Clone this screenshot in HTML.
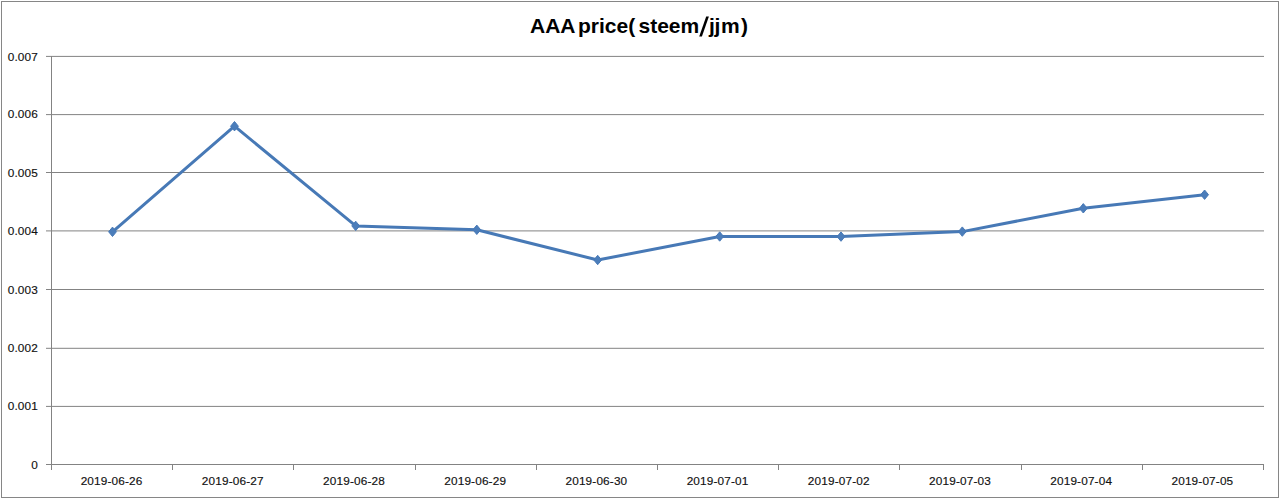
<!DOCTYPE html>
<html><head><meta charset="utf-8"><style>
html,body{margin:0;padding:0;background:#fff;width:1280px;height:499px;overflow:hidden}
svg{display:block}
.l{font-family:"Liberation Sans",sans-serif;font-size:11.8px;fill:#111;stroke:#111;stroke-width:0.15px;letter-spacing:0.15px}
.t{font-family:"Liberation Sans",sans-serif;font-weight:bold;font-size:21px;fill:#000}
</style></head><body>
<svg width="1280" height="499" viewBox="0 0 1280 499">
<rect x="1.5" y="1.5" width="1277" height="496" fill="#fff" stroke="#868686" stroke-width="1" shape-rendering="crispEdges"/>
<text class="t" y="33"><tspan x="530">AAA</tspan><tspan x="578">price(</tspan><tspan x="638.5">steem</tspan><tspan x="709">j</tspan><tspan x="714.5">j</tspan><tspan x="721">m</tspan><tspan x="741">)</tspan></text>
<path d="M699.2 36.5L701.9 36.5L708.9 16.6L706.2 16.6Z" fill="#000"/>
<g><rect x="46" y="464.0" width="1218" height="1" fill="#838383"/>
<rect x="46" y="405.9" width="1218" height="1" fill="#838383"/>
<rect x="46" y="347.8" width="1218" height="1" fill="#838383"/>
<rect x="46" y="289.0" width="1218" height="1" fill="#838383"/>
<rect x="46" y="230.4" width="1218" height="1" fill="#838383"/>
<rect x="46" y="172.0" width="1218" height="1" fill="#838383"/>
<rect x="46" y="114.1" width="1218" height="1" fill="#838383"/>
<rect x="46" y="55.9" width="1218" height="1" fill="#838383"/>
</g><g shape-rendering="crispEdges">
<rect x="51" y="56" width="1" height="408" fill="#838383"/>
<rect x="51" y="464" width="1" height="6" fill="#838383"/>
<rect x="172" y="464" width="1" height="6" fill="#838383"/>
<rect x="293" y="464" width="1" height="6" fill="#838383"/>
<rect x="415" y="464" width="1" height="6" fill="#838383"/>
<rect x="536" y="464" width="1" height="6" fill="#838383"/>
<rect x="657" y="464" width="1" height="6" fill="#838383"/>
<rect x="778" y="464" width="1" height="6" fill="#838383"/>
<rect x="899" y="464" width="1" height="6" fill="#838383"/>
<rect x="1021" y="464" width="1" height="6" fill="#838383"/>
<rect x="1142" y="464" width="1" height="6" fill="#838383"/>
<rect x="1263" y="464" width="1" height="6" fill="#838383"/>
</g>
<g class="l"> <text x="38" y="468.6" text-anchor="end">0</text>
 <text x="38" y="409.6" text-anchor="end">0.001</text>
 <text x="38" y="351.6" text-anchor="end">0.002</text>
 <text x="38" y="293.6" text-anchor="end">0.003</text>
 <text x="38" y="234.6" text-anchor="end">0.004</text>
 <text x="38" y="176.6" text-anchor="end">0.005</text>
 <text x="38" y="117.6" text-anchor="end">0.006</text>
 <text x="38" y="60.6" text-anchor="end">0.007</text>
</g>
<g class="l"><text x="111.6" y="485.3" text-anchor="middle">2019-06-26</text>
<text x="232.8" y="485.3" text-anchor="middle">2019-06-27</text>
<text x="354.0" y="485.3" text-anchor="middle">2019-06-28</text>
<text x="475.2" y="485.3" text-anchor="middle">2019-06-29</text>
<text x="596.4" y="485.3" text-anchor="middle">2019-06-30</text>
<text x="717.6" y="485.3" text-anchor="middle">2019-07-01</text>
<text x="838.8" y="485.3" text-anchor="middle">2019-07-02</text>
<text x="960.0" y="485.3" text-anchor="middle">2019-07-03</text>
<text x="1081.2" y="485.3" text-anchor="middle">2019-07-04</text>
<text x="1202.4" y="485.3" text-anchor="middle">2019-07-05</text>
</g>
<polyline points="112.5,231.8 234.5,126.2 355.7,225.9 476.8,229.8 597.7,260 719.7,236.5 841,236.6 962.3,231.6 1083.3,208.3 1204.6,194.7" fill="none" stroke="#4779B6" stroke-width="3" stroke-linejoin="round" stroke-linecap="round"/>
<g fill="#4B7DBA" stroke="#4779B6" stroke-width="1"><path d="M112.5 227.10000000000002L116.4 231.8L112.5 236.5L108.6 231.8Z"/>
<path d="M234.5 121.5L238.4 126.2L234.5 130.9L230.6 126.2Z"/>
<path d="M355.7 221.20000000000002L359.59999999999997 225.9L355.7 230.6L351.8 225.9Z"/>
<path d="M476.8 225.10000000000002L480.7 229.8L476.8 234.5L472.90000000000003 229.8Z"/>
<path d="M597.7 255.3L601.6 260L597.7 264.7L593.8000000000001 260Z"/>
<path d="M719.7 231.8L723.6 236.5L719.7 241.2L715.8000000000001 236.5Z"/>
<path d="M841 231.9L844.9 236.6L841 241.29999999999998L837.1 236.6Z"/>
<path d="M962.3 226.9L966.1999999999999 231.6L962.3 236.29999999999998L958.4 231.6Z"/>
<path d="M1083.3 203.60000000000002L1087.2 208.3L1083.3 213.0L1079.3999999999999 208.3Z"/>
<path d="M1204.6 190.0L1208.5 194.7L1204.6 199.39999999999998L1200.6999999999998 194.7Z"/>
</g>
</svg>
</body></html>
